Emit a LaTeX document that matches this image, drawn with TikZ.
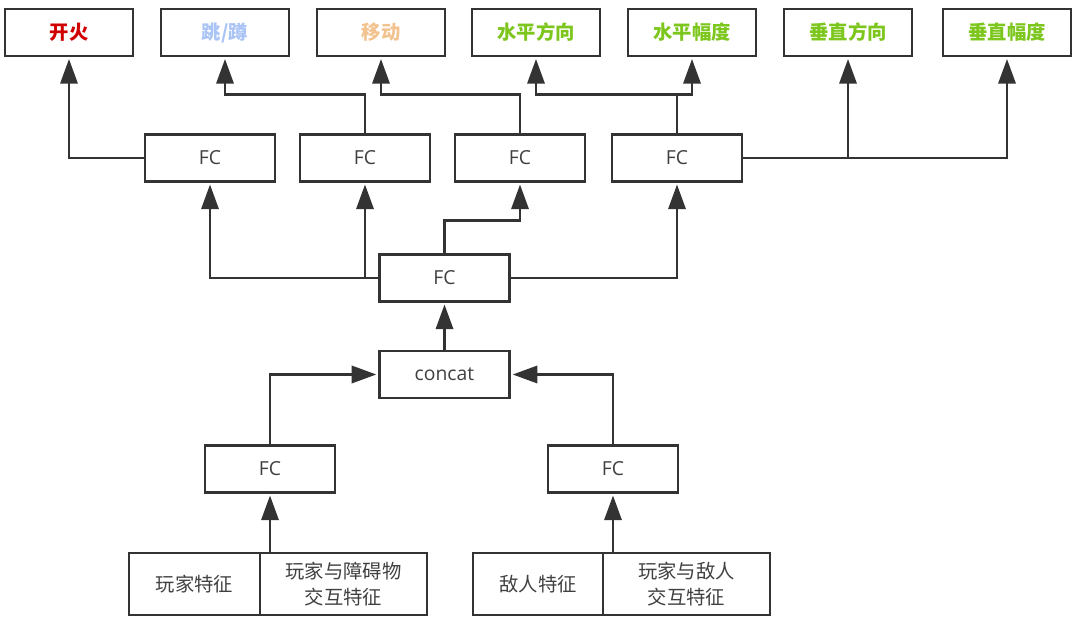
\documentclass[tikz,border=0pt]{standalone}
\usepackage{fontspec}
\setmainfont{Noto Sans CJK SC}
\newfontfamily\latinfont{Open Sans}
\usetikzlibrary{arrows.meta}
\definecolor{linegray}{HTML}{333333}
\definecolor{textgray}{HTML}{404040}
\definecolor{firered}{HTML}{D00000}
\definecolor{jumpblue}{HTML}{A9C4F5}
\definecolor{moveorange}{HTML}{F2C28F}
\definecolor{dirgreen}{HTML}{7CC61E}
\tikzset{
	box/.style={draw=linegray, line width=1.8pt, rectangle, minimum height=35pt,
		inner sep=0pt, text=textgray},
	outbox/.style={box, minimum width=96pt, font=\fontsize{14.5}{16}\selectfont\bfseries},
	fcbox/.style={box, minimum width=97.5pt, font=\latinfont\fontsize{14.5}{16}\selectfont},
	featbox/.style={box, minimum height=46.5pt, align=center,
		font=\fontsize{14.5}{19}\selectfont},
	arr/.style={draw=linegray, line width=1.8pt, shorten >=1.5pt,
		-{Triangle[length=18.5pt,width=13pt]}},
}
\begin{document}
\begin{tikzpicture}[x=0.75pt, y=-0.75pt]
	\useasboundingbox (0,0) rectangle (1080,623);
	
	% 输出层
	\node [outbox, text=firered]    (fire) at (69,32.5)   {开火};
	\node [outbox, text=jumpblue]   (jump) at (225,32.5)  {跳/蹲};
	\node [outbox, text=moveorange] (move) at (381,32.5)  {移动};
	\node [outbox, text=dirgreen]   (hdir) at (536,32.5)  {水平方向};
	\node [outbox, text=dirgreen]   (hmag) at (692,32.5)  {水平幅度};
	\node [outbox, text=dirgreen]   (vdir) at (848,32.5)  {垂直方向};
	\node [outbox, text=dirgreen]   (vmag) at (1007,32.5) {垂直幅度};
	
	% 各分支FC
	\node [fcbox] (fc1) at (210,158) {FC};
	\node [fcbox] (fc2) at (365,158) {FC};
	\node [fcbox] (fc3) at (520,158) {FC};
	\node [fcbox] (fc4) at (677,158) {FC};
	
	% 共享FC与concat
	\node [fcbox] (mid) at (444.5,278)   {FC};
	\node [fcbox] (cat) at (444.5,374.5) {concat};
	
	% 输入侧FC
	\node [fcbox] (lfc) at (270,469) {FC};
	\node [fcbox] (rfc) at (613,469) {FC};
	
	% 输入特征
	\node [featbox, minimum width=98pt]  (pfeat) at (194.5,584) {玩家特征};
	\node [featbox, minimum width=125pt] (pobs)  at (343.5,584) {玩家与障碍物\\交互特征};
	\node [featbox, minimum width=97.5pt] (efeat) at (538,584)  {敌人特征};
	\node [featbox, minimum width=125pt] (pene)  at (686.5,584) {玩家与敌人\\交互特征};
	
	% 连线
	\draw [arr] (lfc.south |- pobs.north) -- (lfc.south);
	\draw [arr] (rfc.south |- pene.north) -- (rfc.south);
	\draw [arr] (lfc.north) |- (cat.west);
	\draw [arr] (rfc.north) |- (cat.east);
	\draw [arr] (cat.north) -- (mid.south);
	
	\draw [arr] (mid.west) -| (fc1.south);
	\draw [arr] (mid.west -| fc2.south) -- (fc2.south);
	\draw [arr] (mid.north) -- ++(0,-33) -| (fc3.south);
	\draw [arr] (mid.east) -| (fc4.south);
	
	\draw [arr] (fc1.west) -| (fire.south);
	\draw [arr] (fc2.north) -- ++(0,-39) -| (jump.south);
	\draw [arr] (fc3.north) -- ++(0,-39) -| (move.south);
	\draw [arr] (fc4.north) -- ++(0,-39) coordinate (hsplit) -| (hdir.south);
	\draw [arr] (hsplit) -| (hmag.south);
	\draw [arr] (fc4.east) -| (vdir.south);
	\draw [arr] (fc4.east) -| (vmag.south);
	
\end{tikzpicture}
\end{document}
